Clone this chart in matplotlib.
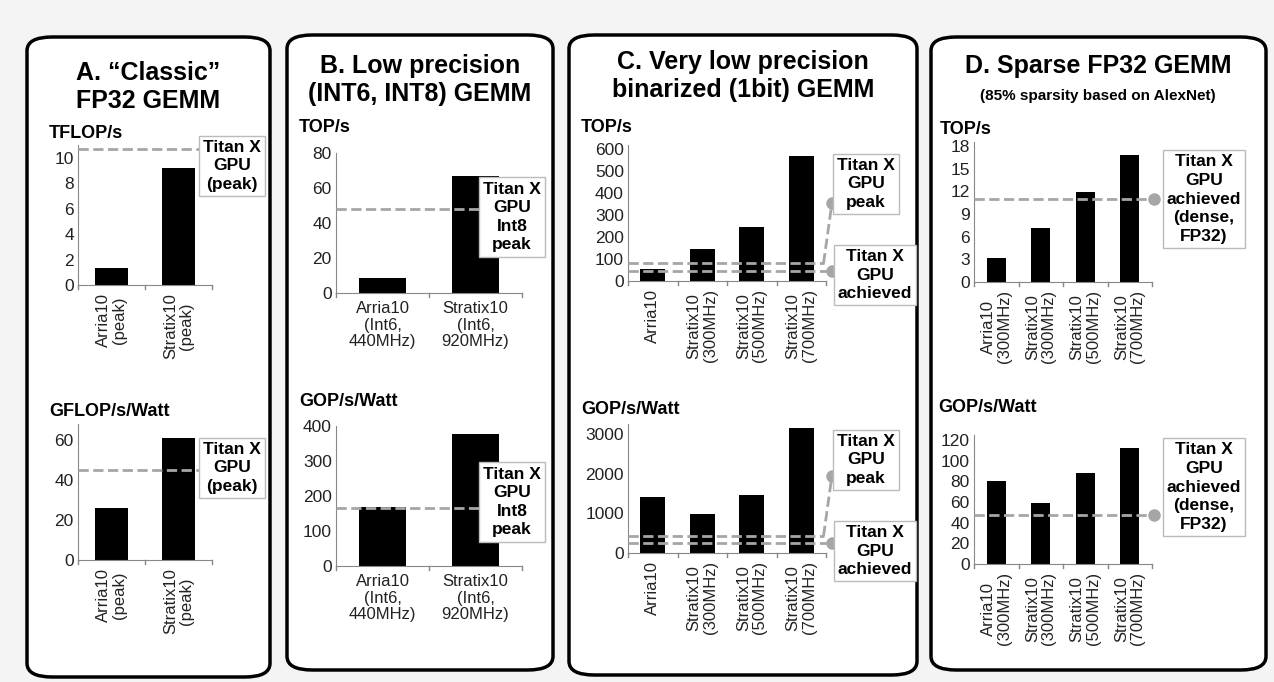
import matplotlib
matplotlib.use("Agg")
import matplotlib.pyplot as plt
from matplotlib.patches import FancyBboxPatch

plt.rcParams['font.family'] = ['Liberation Sans', 'DejaVu Sans']

W, H = 1274, 682
fig = plt.figure(figsize=(W/100, H/100), dpi=100)
fig.patch.set_facecolor('#f4f4f4')

# ---------------- data ----------------
a_cats = ["Arria10\n(peak)", "Stratix10\n(peak)"]
a_perf = [1.3, 9.2]; a_perf_gpu = 10.7
a_eff = [26, 61]; a_eff_gpu = 45

b_cats = ["Arria10\n(Int6,\n440MHz)", "Stratix10\n(Int6,\n920MHz)"]
b_perf = [8.5, 67]; b_perf_gpu = 48
b_eff = [170, 378]; b_eff_gpu = 165

c_cats = ["Arria10", "Stratix10\n(300MHz)", "Stratix10\n(500MHz)", "Stratix10\n(700MHz)"]
c_perf = [55, 145, 245, 570]; c_perf_peak = 80; c_perf_ach = 45
c_eff = [1420, 980, 1470, 3150]; c_eff_peak = 430; c_eff_ach = 260

d_cats = ["Arria10\n(300MHz)", "Stratix10\n(300MHz)", "Stratix10\n(500MHz)", "Stratix10\n(700MHz)"]
d_perf = [3.2, 7.2, 11.9, 16.8]; d_perf_gpu = 11
d_eff = [80, 59, 88, 112]; d_eff_gpu = 47

GRAY = '#a6a6a6'

def fx(x): return x / W
def fy(y): return 1 - y / H

# panel boxes
for (x0, y0, x1, y1) in [(27, 37, 270, 677), (287, 35, 553, 670), (569, 35, 917, 675), (931, 37, 1266, 670)]:
    p = FancyBboxPatch((fx(x0), fy(y1)), fx(x1 - x0), (y1 - y0) / H,
                       boxstyle="round,pad=0,rounding_size=0.02",
                       transform=fig.transFigure, fc='white', ec='black', lw=2.5, zorder=-5)
    fig.patches.append(p)

def make_ax(left, right, y0px, tickval, tickpx, ymax, ticks, cats, vals, rot, ylabel, ylabel_xy, bw=0.5):
    scale = (y0px - tickpx) / tickval
    top = y0px - ymax * scale
    ax = fig.add_axes([fx(left), fy(y0px), fx(right - left), (y0px - top) / H])
    ax.set_zorder(1)
    ax.patch.set_alpha(0)
    x = list(range(len(cats)))
    ax.bar(x, vals, width=bw, color='black', zorder=2)
    ax.set_ylim(0, ymax)
    ax.set_xlim(-0.5, len(cats) - 0.5)
    ax.set_yticks(ticks)
    ax.set_yticklabels([str(t) for t in ticks], fontsize=12.5, color='#222')
    ax.set_xticks(x)
    ax.set_xticklabels(cats, rotation=rot, fontsize=12,
                       ha='center', va='top', color='#222', linespacing=1.1)
    for s in ['top', 'right']:
        ax.spines[s].set_visible(False)
    for s in ['left', 'bottom']:
        ax.spines[s].set_color('#888')
    ax.tick_params(axis='x', length=0, pad=6)
    ax.tick_params(axis='y', length=0, pad=3)
    for i in range(len(cats) + 1):
        ax.plot([i - 0.5, i - 0.5], [0, -ymax * 0.03], color='#888', lw=1, clip_on=False)
    fig.text(fx(ylabel_xy[0]), fy(ylabel_xy[1]), ylabel, fontsize=13, fontweight='bold', va='center')
    return ax, scale

def box(xy, label):
    fig.text(fx(xy[0]), fy(xy[1]), label, fontsize=12.5, fontweight='bold', ha='center', va='center',
             linespacing=1.3, bbox=dict(fc='white', ec='#bbb', lw=1, pad=3), zorder=5)

def gpu_line(ax, val, xend, label, box_xy):
    ax.plot([-0.5, xend], [val, val], ls='--', color=GRAY, lw=2, clip_on=False, zorder=3)
    ax.plot([xend], [val], 'o', color=GRAY, ms=8, clip_on=False, zorder=4)
    box(box_xy, label)

def c_lines(ax, peak, ach, peak_dot):
    ax.plot([-0.5, 3.45], [peak, peak], ls='--', color=GRAY, lw=2, clip_on=False, zorder=3)
    ax.plot([3.45, 3.62], [peak, peak_dot], ls='--', color=GRAY, lw=2, clip_on=False, zorder=3)
    ax.plot([3.62], [peak_dot], 'o', color=GRAY, ms=8, clip_on=False, zorder=4)
    ax.plot([-0.5, 3.62], [ach, ach], ls='--', color=GRAY, lw=2, clip_on=False, zorder=3)
    ax.plot([3.62], [ach], 'o', color=GRAY, ms=8, clip_on=False, zorder=4)

# titles
fig.text(fx(148), fy(87), "A. \u201cClassic\u201d\nFP32 GEMM", fontsize=18, fontweight='bold', ha='center', va='center', linespacing=1.25)
fig.text(fx(420), fy(80), "B. Low precision\n(INT6, INT8) GEMM", fontsize=18, fontweight='bold', ha='center', va='center', linespacing=1.25)
fig.text(fx(743), fy(76), "C. Very low precision\nbinarized (1bit) GEMM", fontsize=18, fontweight='bold', ha='center', va='center', linespacing=1.25)
fig.text(fx(1098), fy(66), "D. Sparse FP32 GEMM", fontsize=18, fontweight='bold', ha='center', va='center')
fig.text(fx(1098), fy(96), "(85% sparsity based on AlexNet)", fontsize=11, fontweight='bold', ha='center', va='center')

# A
ax, _ = make_ax(78, 212, 285, 10, 158, 11, [0, 2, 4, 6, 8, 10], a_cats, a_perf, 90, "TFLOP/s", (49, 134))
gpu_line(ax, a_perf_gpu, 1.75, "Titan X\nGPU\n(peak)", (232, 166))
ax, _ = make_ax(78, 212, 560, 60, 440, 68, [0, 20, 40, 60], a_cats, a_eff, 90, "GFLOP/s/Watt", (49, 411))
gpu_line(ax, a_eff_gpu, 1.75, "Titan X\nGPU\n(peak)", (232, 468))

# B
ax, _ = make_ax(336, 522, 293, 80, 153, 80, [0, 20, 40, 60, 80], b_cats, b_perf, 0, "TOP/s", (299, 127))
gpu_line(ax, b_perf_gpu, 1.55, "Titan X\nGPU\nInt8\npeak", (512, 217))
ax, _ = make_ax(336, 522, 566, 400, 426, 400, [0, 100, 200, 300, 400], b_cats, b_eff, 0, "GOP/s/Watt", (299, 401))
gpu_line(ax, b_eff_gpu, 1.55, "Titan X\nGPU\nInt8\npeak", (512, 502))

# C
ax, _ = make_ax(628, 826, 281, 600, 149, 620, [0, 100, 200, 300, 400, 500, 600], c_cats, c_perf, 90, "TOP/s", (581, 128))
c_lines(ax, c_perf_peak, c_perf_ach, 355)
box((866, 184), "Titan X\nGPU\npeak")
box((875, 275), "Titan X\nGPU\nachieved")

ax, _ = make_ax(628, 826, 553, 3000, 434, 3250, [0, 1000, 2000, 3000], c_cats, c_eff, 90, "GOP/s/Watt", (581, 409))
c_lines(ax, c_eff_peak, c_eff_ach, 1950)
box((866, 460), "Titan X\nGPU\npeak")
box((875, 551), "Titan X\nGPU\nachieved")

# D
ax, _ = make_ax(974, 1152, 282, 18, 146, 18.5, [0, 3, 6, 9, 12, 15, 18], d_cats, d_perf, 90, "TOP/s", (940, 129), bw=0.42)
gpu_line(ax, d_perf_gpu, 3.55, "Titan X\nGPU\nachieved\n(dense,\nFP32)", (1204, 199))
ax, _ = make_ax(974, 1152, 564, 120, 440, 125, [0, 20, 40, 60, 80, 100, 120], d_cats, d_eff, 90, "GOP/s/Watt", (938, 408), bw=0.42)
gpu_line(ax, d_eff_gpu, 3.55, "Titan X\nGPU\nachieved\n(dense,\nFP32)", (1204, 487))

fig.savefig("out.png", dpi=100, facecolor=fig.get_facecolor())
